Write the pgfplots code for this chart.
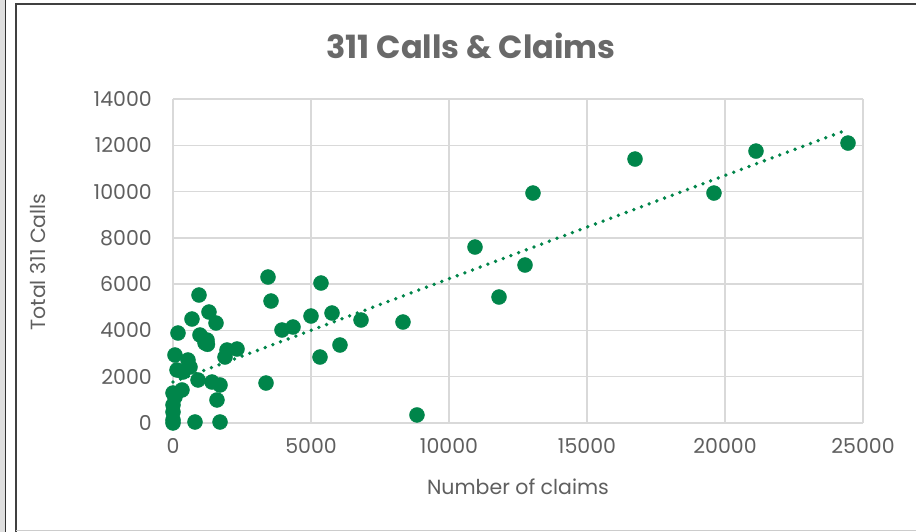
\documentclass[border=0pt]{standalone}
\usepackage{fontspec}
\setmainfont{Poppins}
\usepackage{pgfplots}
\pgfplotsset{compat=1.18}
\definecolor{dotgreen}{RGB}{0,133,74}
\definecolor{txtgray}{RGB}{95,95,95}
\definecolor{titlegray}{RGB}{105,105,105}
\definecolor{gridgray}{RGB}{217,217,217}
\begin{document}
\begin{tikzpicture}[x=1pt,y=1pt]
\useasboundingbox (0,0) rectangle (916,532);
\fill[white] (0,0) rectangle (916,532);
\fill[gray!25] (0,0) rectangle (5,532);
\draw[black!80, line width=1.2pt] (5.6,0) -- (5.6,532);
\draw[black!75, line width=2pt] (16,0) -- (16,527.5) -- (916,527.5);
\draw[gray!40, line width=1pt] (16,1) -- (916,1);
\begin{axis}[
  scale only axis, width=690pt, height=324pt,
  at={(173pt,109pt)}, anchor=south west,
  xmin=0, xmax=25000, ymin=0, ymax=14000,
  xtick={0,5000,10000,15000,20000,25000},
  ytick={0,2000,4000,6000,8000,10000,12000,14000},
  scaled ticks=false,
  /pgf/number format/.cd, 1000 sep={}, assume math mode=true, /pgfplots/.cd,
  grid=major,
  grid style={draw=gridgray, line width=1.3pt},
  axis line style={draw=none},
  major tick length=0pt,
  tick label style={font=\fontsize{20.5}{22}\selectfont, text=txtgray, inner sep=0pt},
  yticklabel style={anchor=east, xshift=-21pt},
  xticklabel style={anchor=north, yshift=-15pt},
  clip=false,
]
\addplot[only marks, mark=*, mark size=7.5pt, mark options={fill=dotgreen, draw=dotgreen}] coordinates {
(0,0) (0,130) (0,475) (0,778) (0,1296) (72,1123) (326,1426) (145,2290)
(362,2203) (616,2419) (543,2722) (72,2938) (906,1858) (1413,1771) (1703,1642)
(797,43) (1703,43) (1594,994) (1160,3456) (1250,3400) (1957,3154) (2319,3197)
(1884,2851) (181,3888) (978,3802) (1232,3586) (688,4493) (1558,4320) (1304,4795)
(942,5530) (3442,6307) (3551,5270) (3370,1728) (3949,4018) (4348,4147) (5000,4622)
(5761,4752) (5362,6048) (5326,2851) (6050,3370) (6812,4450) (8333,4363) (8840,346)
(10942,7603) (11812,5443) (12754,6826) (13043,9936) (16740,11405) (19600,9936)
(21123,11750) (24457,12096)
};
\addplot[draw=dotgreen, line width=3.8pt, line cap=round, dash pattern=on 0pt off 8.2pt] coordinates {(0,1771) (24400,12658)};
\end{axis}
\node[font=\bfseries\fontsize{32}{34}\selectfont, text=titlegray] at (471,486) {311 Calls \& Claims};
\node[font=\fontsize{20.5}{22}\selectfont, text=txtgray, rotate=90] at (38,270) {Total 311 Calls};
\node[font=\fontsize{20.5}{22}\selectfont, text=txtgray] at (518,45) {Number of claims};
\end{tikzpicture}
\end{document}
